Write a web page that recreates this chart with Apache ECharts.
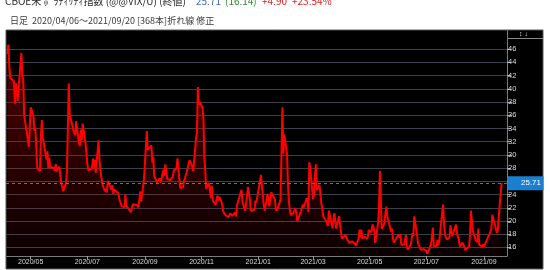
<!DOCTYPE html>
<html>
<head>
<meta charset="utf-8">
<script src="https://cdn.jsdelivr.net/npm/echarts@6/dist/echarts.min.js"></script>
<style>html,body{margin:0;padding:0;background:#fff;}#c{width:550px;height:270px;}</style>
</head>
<body>
<div id="c"></div>
<script>
// ---- data (VIX daily closes) ----
const dates2020 = ['04/06','04/07','04/08','04/09','04/13','04/14','04/15','04/16','04/17','04/20','04/21','04/22','04/23','04/24','04/27','04/28','04/29','04/30',
'05/01','05/04','05/05','05/06','05/07','05/08','05/11','05/12','05/13','05/14','05/15','05/18','05/19','05/20','05/21','05/22','05/26','05/27','05/28','05/29',
'06/01','06/02','06/03','06/04','06/05','06/08','06/09','06/10','06/11','06/12','06/15','06/16','06/17','06/18','06/19','06/22','06/23','06/24','06/25','06/26','06/29','06/30',
'07/01','07/02','07/06','07/07','07/08','07/09','07/10','07/13','07/14','07/15','07/16','07/17','07/20','07/21','07/22','07/23','07/24','07/27','07/28','07/29','07/30','07/31',
'08/03','08/04','08/05','08/06','08/07','08/10','08/11','08/12','08/13','08/14','08/17','08/18','08/19','08/20','08/21','08/24','08/25','08/26','08/27','08/28','08/31',
'09/01','09/02','09/03','09/04','09/08','09/09','09/10','09/11','09/14','09/15','09/16','09/17','09/18','09/21','09/22','09/23','09/24','09/25','09/28','09/29','09/30',
'10/01','10/02','10/05','10/06','10/07','10/08','10/09','10/12','10/13','10/14','10/15','10/16','10/19','10/20','10/21','10/22','10/23','10/26','10/27','10/28','10/29','10/30',
'11/02','11/03','11/04','11/05','11/06','11/09','11/10','11/11','11/12','11/13','11/16','11/17','11/18','11/19','11/20','11/23','11/24','11/25','11/27','11/30',
'12/01','12/02','12/03','12/04','12/07','12/08','12/09','12/10','12/11','12/14','12/15','12/16','12/17','12/18','12/21','12/22','12/23','12/24','12/28','12/29','12/30','12/31'];
const close2020 = [45.24,46.70,43.35,41.67,41.17,37.76,40.84,40.11,38.15,43.83,45.41,41.98,41.38,35.93,33.29,33.57,31.23,34.15,
37.19,35.97,33.61,34.12,31.44,27.98,27.57,33.04,35.28,32.61,31.89,29.30,30.53,27.99,29.53,28.16,28.01,27.62,28.59,27.51,
28.23,26.84,25.66,25.81,24.52,25.81,27.57,27.57,40.79,36.09,34.40,33.67,33.47,32.94,35.12,31.77,31.37,33.84,32.22,34.73,31.78,30.43,
28.62,27.68,27.94,29.43,28.08,29.26,27.29,32.19,29.52,27.76,28.00,25.68,24.46,24.84,24.32,26.08,25.84,24.74,25.44,24.10,24.76,24.46,
24.28,23.76,22.99,22.65,22.21,22.13,24.03,22.28,22.13,22.05,21.35,21.51,22.54,22.72,22.54,22.37,22.03,23.27,24.47,22.96,26.41,
26.12,26.57,33.60,30.75,31.46,28.81,29.71,26.87,25.85,25.59,26.04,26.46,25.83,27.78,26.86,28.58,28.51,26.38,26.19,26.27,26.37,
26.70,27.63,27.96,29.48,28.06,26.36,25.00,25.07,26.07,26.40,26.97,27.41,29.18,29.35,28.65,28.11,27.55,32.46,33.35,40.28,37.59,38.02,
37.13,35.55,29.57,27.58,24.86,25.75,24.80,23.45,25.35,23.10,22.45,22.71,23.84,23.11,23.70,22.66,21.64,21.25,20.84,20.57,
20.77,21.17,21.28,20.79,21.30,20.68,22.27,22.52,23.31,24.72,22.89,22.50,21.93,21.57,25.16,24.23,23.31,21.53,21.70,23.08,22.77,22.75];
const dates2021 = ['01/04','01/05','01/06','01/07','01/08','01/11','01/12','01/13','01/14','01/15','01/19','01/20','01/21','01/22','01/25','01/26','01/27','01/28','01/29',
'02/01','02/02','02/03','02/04','02/05','02/08','02/09','02/10','02/11','02/12','02/16','02/17','02/18','02/19','02/22','02/23','02/24','02/25','02/26',
'03/01','03/02','03/03','03/04','03/05','03/08','03/09','03/10','03/11','03/12','03/15','03/16','03/17','03/18','03/19','03/22','03/23','03/24','03/25','03/26','03/29','03/30','03/31',
'04/01','04/05','04/06','04/07','04/08','04/09','04/12','04/13','04/14','04/15','04/16','04/19','04/20','04/21','04/22','04/23','04/26','04/27','04/28','04/29','04/30',
'05/03','05/04','05/05','05/06','05/07','05/10','05/11','05/12','05/13','05/14','05/17','05/18','05/19','05/20','05/21','05/24','05/25','05/26','05/27','05/28',
'06/01','06/02','06/03','06/04','06/07','06/08','06/09','06/10','06/11','06/14','06/15','06/16','06/17','06/18','06/21','06/22','06/23','06/24','06/25','06/28','06/29','06/30',
'07/01','07/02','07/06','07/07','07/08','07/09','07/12','07/13','07/14','07/15','07/16','07/19','07/20','07/21','07/22','07/23','07/26','07/27','07/28','07/29','07/30',
'08/02','08/03','08/04','08/05','08/06','08/09','08/10','08/11','08/12','08/13','08/16','08/17','08/18','08/19','08/20','08/23','08/24','08/25','08/26','08/27','08/30','08/31',
'09/01','09/02','09/03','09/07','09/08','09/09','09/10','09/13','09/14','09/15','09/16','09/17','09/20'];
const close2021 = [26.97,25.34,25.07,22.37,21.56,24.08,23.33,22.21,23.25,24.34,23.24,21.58,21.32,21.91,23.19,23.02,37.21,30.21,33.09,
30.24,25.56,22.91,21.77,20.87,21.24,21.63,21.99,21.25,19.97,21.46,21.50,22.49,22.05,23.45,23.11,21.34,28.89,27.95,
23.35,24.10,26.67,28.57,24.66,25.47,24.03,22.56,21.91,20.69,20.03,19.79,19.23,21.58,20.95,18.88,20.30,21.20,19.81,18.86,20.74,19.61,19.40,
17.33,17.91,18.12,17.16,16.95,16.69,16.91,16.65,16.99,16.57,16.25,17.29,18.68,17.50,18.71,17.33,17.64,17.56,17.28,17.61,18.61,
18.31,19.48,19.15,18.39,16.69,19.66,21.84,27.59,23.13,18.81,19.72,21.34,22.18,20.67,20.15,18.40,18.84,17.36,16.74,16.76,
17.90,17.48,18.04,16.42,16.42,17.07,17.89,16.10,15.65,16.39,17.02,18.15,17.75,20.70,17.89,16.66,16.32,15.97,15.62,15.76,16.02,15.83,
15.48,15.07,16.44,16.20,19.00,16.18,16.17,17.12,16.33,17.01,18.45,22.50,19.73,17.91,17.69,17.20,17.58,19.36,18.31,17.70,18.24,
19.46,18.04,17.97,17.28,16.15,16.72,16.79,16.06,15.59,15.45,16.12,17.91,21.57,21.67,18.56,17.15,17.22,16.79,18.84,16.39,16.11,16.48,
16.11,16.41,16.41,18.04,17.96,18.80,20.95,19.37,19.46,18.18,18.69,20.81,25.71];
const xTickLabels = ['2020/05','2020/07','2020/09','2020/11','2021/01','2021/03','2021/05','2021/07','2021/09'];
const yTickLabels = [16,18,20,22,24,26,28,30,32,34,36,38,40,42,44,46];

// ---- build ----
function ts(y, md) { const p = md.split('/'); return Date.UTC(y, +p[0]-1, +p[1]); }
const seriesData = [];
dates2020.forEach((d,i)=>seriesData.push([ts(2020,d), close2020[i]]));
dates2021.forEach((d,i)=>seriesData.push([ts(2021,d), close2021[i]]));
const lastVal = close2021[close2021.length-1];
const xTickVals = xTickLabels.map(s => { const p = s.split('/'); return Date.UTC(+p[0], +p[1]-1, 1); });

const JP = '"Noto Sans CJK JP", "Noto Sans", sans-serif';
const NUM = '"Liberation Sans", Arial, sans-serif';

const chart = echarts.init(document.getElementById('c'), null, {renderer:'canvas'});
const option = {
  animation: false,
  backgroundColor: '#ffffff',
  grid: {left: 6, right: 43, top: 30, bottom: 14, containLabel: false},
  xAxis: {
    type: 'value',
    scale: true,
    min: Date.UTC(2020,3,4,10),
    max: Date.UTC(2021,8,25,20),
    axisLine: {show: true, onZero: false, lineStyle: {color: '#7a7a7a', width: 1}},
    axisTick: {show: true, customValues: xTickVals, length: 3, lineStyle: {color: '#9a9a9a'}},
    axisLabel: {show: true, customValues: xTickVals, color: '#dcdcdc', fontSize: 7, fontFamily: NUM, margin: 3,
      formatter: function (v) { const i = xTickVals.indexOf(v); return i >= 0 ? xTickLabels[i] : ''; }},
    splitLine: {show: false}
  },
  yAxis: {
    type: 'value',
    position: 'right',
    min: 14.7,
    max: 48.9,
    axisLine: {show: true, lineStyle: {color: '#7a7a7a', width: 1}},
    axisTick: {show: true, customValues: yTickLabels, length: 4, lineStyle: {color: '#aaaaaa'}},
    axisLabel: {show: true, customValues: yTickLabels, color: '#dcdcdc', fontSize: 7.5, fontFamily: NUM, margin: 1},
    splitLine: {show: true, lineStyle: {color: '#38424f', width: 1}}
  },
  series: [{
    type: 'line',
    data: seriesData,
    symbol: 'none',
    showSymbol: false,
    lineStyle: {color: '#ff0000', width: 2},
    areaStyle: {
      origin: 'start',
      color: new echarts.graphic.LinearGradient(0, 0, 0, 1, [
        {offset: 0, color: 'rgba(205,0,0,0.58)'},
        {offset: 1, color: 'rgba(205,0,0,0.08)'}
      ])
    },
    markLine: {
      silent: true,
      symbol: 'none',
      data: [{yAxis: lastVal}],
      lineStyle: {color: '#2f7fc1', type: [3, 3], width: 1},
      label: {show: false}
    },
    z: 3
  }],
  graphic: [
    {type: 'rect', z: -10, shape: {x: 6, y: 30, width: 537, height: 239}, style: {fill: '#000000', stroke: '#5a5a5a', lineWidth: 1}},
    {type: 'text', x: 5, y: -4, style: {text: 'CBOE米 ﾎﾞﾗﾃｨﾘﾃｨ指数 (@@VIX/U) (終値)', fill: '#2a2a2a', font: '10px ' + JP}},
    {type: 'text', x: 196, y: -4, style: {text: lastVal.toFixed(2), fill: '#3a6cc0', font: '10px ' + JP}},
    {type: 'text', x: 225, y: -4, style: {text: '(16.14)', fill: '#2e8b2e', font: '10px ' + JP}},
    {type: 'text', x: 262, y: -4, style: {text: '+4.90', fill: '#e02020', font: '10px ' + JP}},
    {type: 'text', x: 292, y: -4, style: {text: '+23.54%', fill: '#e02020', font: '10px ' + JP}},
    {type: 'text', x: 10, y: 16, style: {text: '日足  2020/04/06～2021/09/20 [368本]折れ線 修正', fill: '#3a3a3a', font: '9px ' + JP}},
    {type: 'line', shape: {x1: 507, y1: 38.5, x2: 543, y2: 38.5}, style: {stroke: '#8a8a8a', lineWidth: 1}},
    {type: 'text', x: 519, y: 30.5, style: {text: '↕ ↓', fill: '#dddddd', font: '7px ' + NUM}}
  ]
};
chart.setOption(option);

// current value box on the right axis, placed through the y scale
const yPix = chart.convertToPixel({yAxisIndex: 0}, lastVal);
chart.setOption({
  graphic: option.graphic.concat([
    {type: 'rect', z: 100, shape: {x: 507.5, y: yPix - 7, width: 36, height: 14}, style: {fill: '#1a7fcf'}},
    {type: 'text', z: 101, x: 541, y: yPix, style: {text: lastVal.toFixed(2), fill: '#ffffff', font: '8px ' + NUM, align: 'right', verticalAlign: 'middle'}}
  ])
});
</script>
</body>
</html>
